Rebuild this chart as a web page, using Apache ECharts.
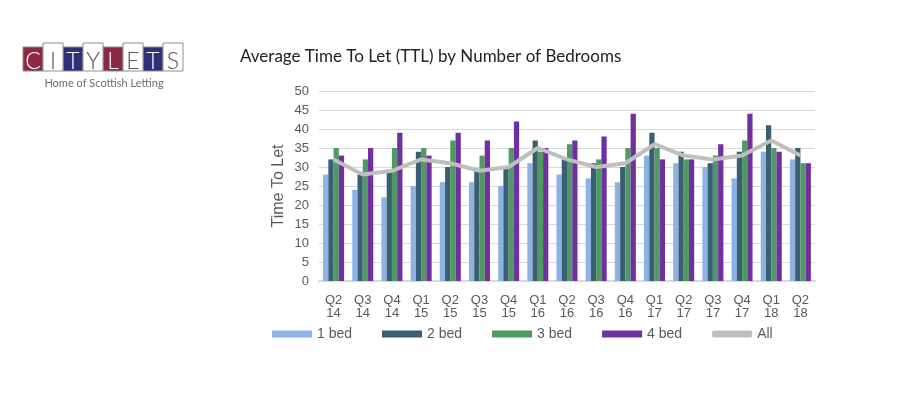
<!DOCTYPE html>
<html>
<head>
<meta charset="utf-8">
<script src="https://cdn.jsdelivr.net/npm/echarts@6/dist/echarts.min.js"></script>
<style>
html,body{margin:0;padding:0;background:#fff;}
#chart{width:900px;height:400px;}
</style>
</head>
<body>
<div id="chart"></div>
<script>
var categories = ['Q2 14','Q3 14','Q4 14','Q1 15','Q2 15','Q3 15','Q4 15','Q1 16','Q2 16','Q3 16','Q4 16','Q1 17','Q2 17','Q3 17','Q4 17','Q1 18','Q2 18'];
var bed1 = [28,24,22,25,26,26,25,31,28,27,26,33,31,30,27,34,32];
var bed2 = [32,28,29,34,30,29,30,37,32,31,30,39,34,31,34,41,35];
var bed3 = [35,32,35,35,37,33,35,34,36,32,35,35,32,33,37,35,31];
var bed4 = [33,35,39,33,39,37,42,35,37,38,44,32,32,36,44,34,31];
var allBeds = [32,28,29,32,31,29,30,35,32,30,31,36,33,32,33,37,33];
var yTicks = [0,5,10,15,20,25,30,35,40,45,50];
var seriesNames = ['1 bed','2 bed','3 bed','4 bed','All'];
var logoText = 'CITYLETS';
var logoSub = 'Home of Scottish Letting';

(function () {
var colors = ['#8DB3E2','#3A5E72','#4F9A63','#7030A0','#BFBFBF'];
var boxFill = ['#8C2A45','#ffffff','#2E3079','#ffffff','#8C2A45','#ffffff','#2E3079','#ffffff'];
var axisFont = '"Liberation Sans", Arial, sans-serif';

var graphics = [];
for (var i = 0; i < logoText.length; i++) {
  var bx = 23 + i * 20;
  var colored = boxFill[i] !== '#ffffff';
  var by = colored ? 47 : 43;
  var bh = colored ? 24 : 28;
  graphics.push({
    type: 'rect', shape: {x: bx, y: by, width: 20, height: bh},
    style: {fill: boxFill[i], stroke: '#8f8f8f', lineWidth: 1}, z: colored ? 1 : 2
  });
  graphics.push({
    type: 'text', z: 3,
    style: {x: bx + 10, y: 61.5, text: logoText[i], fill: colored ? '#ffffff' : '#555555',
      font: '300 23px Lato, "DejaVu Sans", sans-serif', textAlign: 'center', textVerticalAlign: 'middle'}
  });
}
graphics.push({
  type: 'text',
  style: {x: 104, y: 83, text: logoSub, fill: '#6d6d6d', font: '11px Lato, sans-serif',
    textAlign: 'center', textVerticalAlign: 'middle'}
});

var chart = echarts.init(document.getElementById('chart'));
var barSeries = [bed1, bed2, bed3, bed4].map(function (d, k) {
  return {
    name: seriesNames[k], type: 'bar', data: d,
    barGap: '0%', barCategoryGap: '28%',
    itemStyle: {color: colors[k]}
  };
});
chart.setOption({
  animation: false,
  color: colors,
  title: {
    text: 'Average Time To Let (TTL) by Number of Bedrooms',
    left: 240, top: 48, padding: 0,
    textStyle: {fontFamily: 'Lato, "Open Sans", sans-serif', fontSize: 17, fontWeight: 'normal', color: '#222'}
  },
  graphic: graphics,
  legend: {
    left: 272, top: 327, padding: 0, itemWidth: 40, itemHeight: 7, itemGap: 30,
    textStyle: {fontFamily: axisFont, fontSize: 14, color: '#595959'},
    data: [
      {name: '1 bed', icon: 'rect'},
      {name: '2 bed', icon: 'rect'},
      {name: '3 bed', icon: 'rect'},
      {name: '4 bed', icon: 'rect'},
      {name: 'All', icon: 'roundRect', itemStyle: {color: '#BFBFBF'}}
    ]
  },
  grid: {left: 319, right: 85, top: 91, bottom: 119},
  xAxis: {
    type: 'category', data: categories,
    axisLine: {lineStyle: {color: '#D9D9D9', width: 2}},
    axisTick: {show: false},
    axisLabel: {
      interval: 0, margin: 13, color: '#595959', fontSize: 13, lineHeight: 13,
      fontFamily: axisFont,
      formatter: function (v) { return v.replace(' ', '\n'); }
    }
  },
  yAxis: {
    type: 'value', min: yTicks[0], max: yTicks[yTicks.length - 1], interval: 5,
    name: 'Time To Let', nameLocation: 'middle', nameGap: 32, nameMoveOverlap: false,
    nameTextStyle: {fontFamily: axisFont, fontSize: 16, color: '#595959'},
    axisLine: {show: false}, axisTick: {show: false},
    axisLabel: {margin: 10, color: '#595959', fontSize: 13, fontFamily: axisFont},
    splitLine: {lineStyle: {color: '#D9D9D9', width: 1}}
  },
  series: barSeries.concat([{
    name: 'All', type: 'line', data: allBeds, symbol: 'none', z: 5,
    lineStyle: {color: '#BFBFBF', width: 4}, itemStyle: {color: '#BFBFBF'}
  }])
});
})();
</script>
</body>
</html>
